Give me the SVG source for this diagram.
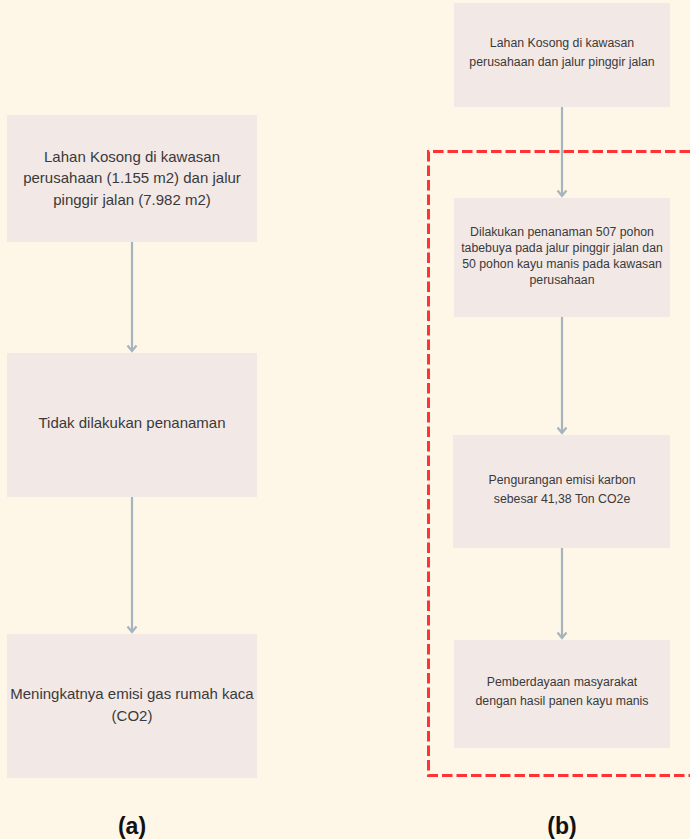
<svg xmlns="http://www.w3.org/2000/svg" width="690" height="839" viewBox="0 0 690 839">
<defs>
<style>
.bg{fill:#FEF7E8}
.box{fill:#F2E8E6}
.t{font-family:"Liberation Sans",Arial,sans-serif;fill:#3a3a3a;text-anchor:middle}
.tl{font-size:15px}
.tr{font-size:12.3px}
.lab{font-family:"Liberation Sans",Arial,sans-serif;font-weight:bold;font-size:23px;fill:#111;text-anchor:middle}
.edge{stroke:#A6B4BF;stroke-width:2.2;fill:none}
.head{stroke:#A6B4BF;stroke-width:2.2;fill:none;stroke-linejoin:miter}
</style>
</defs>
<rect class="bg" x="0" y="0" width="690" height="839"/>
<g id="connectors">
<line class="edge" x1="132" y1="242" x2="132" y2="351"/>
<path class="head" d="M127.5,345.5 L132,351 L136.5,345.5"/>
<line class="edge" x1="132" y1="497" x2="132" y2="632"/>
<path class="head" d="M127.5,626.5 L132,632 L136.5,626.5"/>
<line class="edge" x1="562" y1="107" x2="562" y2="196"/>
<path class="head" d="M557.5,190.5 L562,196 L566.5,190.5"/>
<line class="edge" x1="562" y1="317" x2="562" y2="433"/>
<path class="head" d="M557.5,427.5 L562,433 L566.5,427.5"/>
<line class="edge" x1="562" y1="548" x2="562" y2="638"/>
<path class="head" d="M557.5,632.5 L562,638 L566.5,632.5"/>
</g>
<g id="a1">
<rect class="box" x="7" y="115" width="250" height="127"/>
<text class="t tl" x="132" y="162">Lahan Kosong di kawasan</text>
<text class="t tl" x="132" y="183">perusahaan (1.155 m2) dan jalur</text>
<text class="t tl" x="132" y="205">pinggir jalan (7.982 m2)</text>
</g>
<g id="a2">
<rect class="box" x="7" y="353" width="250" height="144"/>
<text class="t tl" x="132" y="428">Tidak dilakukan penanaman</text>
</g>
<g id="a3">
<rect class="box" x="7" y="634" width="250" height="144"/>
<text class="t tl" x="132" y="699">Meningkatnya emisi gas rumah kaca</text>
<text class="t tl" x="132" y="721">(CO2)</text>
</g>
<g id="group-b">
<path d="M690,151.5 L428.5,151.5 L428.5,775.5 L690,775.5" fill="none" stroke="#FF3333" stroke-width="3" stroke-dasharray="10.5 4"/>
</g>
<g id="b1">
<rect class="box" x="454" y="3" width="216" height="104"/>
<text class="t tr" x="562" y="47">Lahan Kosong di kawasan</text>
<text class="t tr" x="562" y="66">perusahaan dan jalur pinggir jalan</text>
</g>
<g id="b2">
<rect class="box" x="454" y="198" width="216" height="119"/>
<text class="t tr" x="562" y="236">Dilakukan penanaman 507 pohon</text>
<text class="t tr" x="562" y="252">tabebuya pada jalur pinggir jalan dan</text>
<text class="t tr" x="562" y="268">50 pohon kayu manis pada kawasan</text>
<text class="t tr" x="562" y="284">perusahaan</text>
</g>
<g id="b3">
<rect class="box" x="453" y="435" width="217" height="113"/>
<text class="t tr" x="562" y="484">Pengurangan emisi karbon</text>
<text class="t tr" x="562" y="503">sebesar 41,38 Ton CO2e</text>
</g>
<g id="b4">
<rect class="box" x="454" y="640" width="216" height="108"/>
<text class="t tr" x="562" y="686">Pemberdayaan masyarakat</text>
<text class="t tr" x="562" y="705">dengan hasil panen kayu manis</text>
</g>
<text class="lab" x="132" y="834">(a)</text>
<text class="lab" x="562" y="834">(b)</text>
</svg>
